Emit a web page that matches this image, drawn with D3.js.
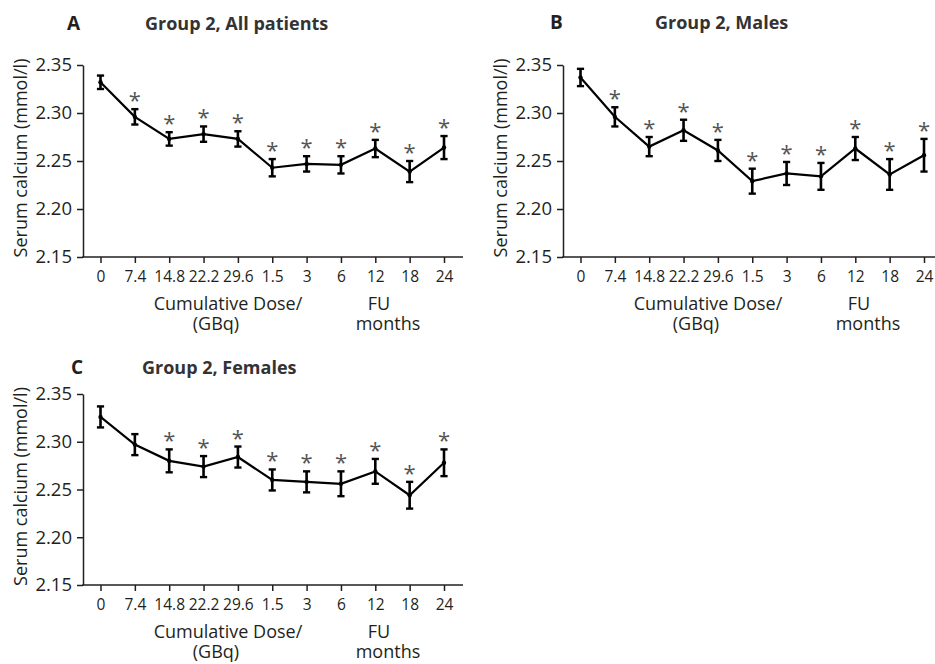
<!DOCTYPE html>
<html>
<head>
<meta charset="utf-8">
<script src="https://cdn.jsdelivr.net/npm/d3@7/dist/d3.min.js"></script>
<style>
  html, body { margin: 0; padding: 0; background: #fff; }
  svg { display: block; font-family: "Open Sans", "Noto Sans", sans-serif; }
</style>
</head>
<body>
<svg id="chart" width="935" height="664"></svg>
<script>
// Time points: cumulative dose (GBq) during therapy, then follow-up months
const timeLabels = ["0", "7.4", "14.8", "22.2", "29.6", "1.5", "3", "6", "12", "18", "24"];
const yTickValues = [2.15, 2.20, 2.25, 2.30, 2.35];

// Serum calcium mean and SEM (mmol/l)
const allMean = [2.332, 2.296, 2.273, 2.278, 2.273, 2.243, 2.247, 2.246, 2.263, 2.239, 2.264];
const allErr  = [0.007, 0.008, 0.007, 0.008, 0.008, 0.009, 0.008, 0.009, 0.009, 0.011, 0.012];
const allSig  = [0, 1, 1, 1, 1, 1, 1, 1, 1, 1, 1];

const maleMean = [2.337, 2.296, 2.265, 2.282, 2.261, 2.229, 2.237, 2.234, 2.263, 2.236, 2.256];
const maleErr  = [0.009, 0.010, 0.010, 0.011, 0.011, 0.013, 0.012, 0.014, 0.012, 0.016, 0.017];
const maleSig  = [0, 1, 1, 1, 1, 1, 1, 1, 1, 1, 1];

const femaleMean = [2.326, 2.297, 2.280, 2.274, 2.284, 2.260, 2.258, 2.256, 2.269, 2.244, 2.278];
const femaleErr  = [0.011, 0.011, 0.012, 0.011, 0.011, 0.011, 0.011, 0.013, 0.013, 0.014, 0.014];
const femaleSig  = [0, 0, 1, 1, 1, 1, 1, 1, 1, 1, 1];

const panels = [
  { letter: "A", title: "Group 2, All patients", mean: allMean, err: allErr, sig: allSig,
    x0: 83, xEnd: 463, yTop: 65, yBottom: 257, letterX: 67, titleX: 145, titleY: 30 },
  { letter: "B", title: "Group 2, Males", mean: maleMean, err: maleErr, sig: maleSig,
    x0: 563, xEnd: 935, yTop: 65, yBottom: 257, letterX: 550, titleX: 655, titleY: 29 },
  { letter: "C", title: "Group 2, Females", mean: femaleMean, err: femaleErr, sig: femaleSig,
    x0: 83, xEnd: 463, yTop: 394, yBottom: 585, letterX: 71, titleX: 142, titleY: 374 }
];

const textColor = "#231f20";
const svg = d3.select("#chart");

panels.forEach(p => {
  const g = svg.append("g");

  const x = d3.scalePoint().domain(timeLabels).range([p.x0 + 17.5, p.x0 + 361]);
  const y = d3.scaleLinear().domain([2.15, 2.35]).range([p.yBottom, p.yTop]);

  // Panel letter and title
  g.append("text").attr("x", p.letterX).attr("y", p.titleY)
    .attr("font-size", 19).attr("font-weight", 700).attr("fill", textColor).text(p.letter);
  g.append("text").attr("x", p.titleX).attr("y", p.titleY)
    .attr("font-size", 18).attr("font-weight", 700).attr("fill", "#333").text(p.title);

  // Y axis
  const yAxis = g.append("g").attr("transform", `translate(${p.x0},0)`)
    .call(d3.axisLeft(y).tickValues(yTickValues).tickFormat(d3.format(".2f"))
      .tickSize(6).tickSizeOuter(0).tickPadding(5));
  yAxis.select(".domain").attr("stroke", "#231f20").attr("stroke-width", 1.5);
  yAxis.selectAll(".tick line").attr("stroke", "#231f20").attr("stroke-width", 1.5);
  yAxis.selectAll(".tick text").attr("font-size", 18.5).attr("fill", textColor)
    .attr("font-family", "'Open Sans', sans-serif");

  // X axis
  const xAxis = g.append("g").attr("transform", `translate(0,${p.yBottom})`)
    .call(d3.axisBottom(x).tickSize(6).tickSizeOuter(0).tickPadding(8));
  xAxis.select(".domain").remove();
  xAxis.selectAll(".tick line").attr("stroke", "#231f20").attr("stroke-width", 1.5);
  xAxis.selectAll(".tick text").attr("font-size", 15.5).attr("fill", textColor)
    .attr("font-family", "'Open Sans', sans-serif");
  g.append("line")
    .attr("x1", p.x0 - 0.75).attr("x2", p.xEnd)
    .attr("y1", p.yBottom).attr("y2", p.yBottom)
    .attr("stroke", "#231f20").attr("stroke-width", 1.5);

  // Y axis title
  g.append("text")
    .attr("transform", `translate(${p.x0 - 56},${(p.yTop + p.yBottom) / 2 - 3}) rotate(-90)`)
    .attr("text-anchor", "middle").attr("font-size", 18).attr("fill", textColor)
    .text("Serum calcium (mmol/l)");

  // X axis titles, two lines each
  const xt = [
    { t: "Cumulative Dose/", dx: 145, dy: 53 },
    { t: "(GBq)", dx: 133, dy: 73 },
    { t: "FU", dx: 296, dy: 53 },
    { t: "months", dx: 305, dy: 73 }
  ];
  g.selectAll(".xtitle").data(xt).join("text")
    .attr("x", d => p.x0 + d.dx).attr("y", d => p.yBottom + d.dy)
    .attr("text-anchor", "middle").attr("font-size", 18).attr("fill", textColor)
    .text(d => d.t);

  const pts = timeLabels.map((lab, i) => ({ lab, m: p.mean[i], e: p.err[i], s: p.sig[i] }));

  // Mean line
  g.append("path").datum(pts)
    .attr("d", d3.line().x(d => x(d.lab)).y(d => y(d.m)))
    .attr("fill", "none").attr("stroke", "#000").attr("stroke-width", 2.2)
    .attr("stroke-linejoin", "miter");

  // Error bars
  const eb = g.selectAll(".eb").data(pts).join("g");
  eb.append("line")
    .attr("x1", d => x(d.lab)).attr("x2", d => x(d.lab))
    .attr("y1", d => y(d.m - d.e)).attr("y2", d => y(d.m + d.e))
    .attr("stroke", "#000").attr("stroke-width", 2.6);
  [1, -1].forEach(sgn => {
    eb.append("line")
      .attr("x1", d => x(d.lab) - 3.6).attr("x2", d => x(d.lab) + 3.6)
      .attr("y1", d => y(d.m + sgn * d.e)).attr("y2", d => y(d.m + sgn * d.e))
      .attr("stroke", "#000").attr("stroke-width", 2.4);
  });
  eb.append("circle")
    .attr("cx", d => x(d.lab)).attr("cy", d => y(d.m)).attr("r", 2.2).attr("fill", "#000");

  // Significance markers above the upper error caps
  g.selectAll(".sig").data(pts.filter(d => d.s)).join("text")
    .attr("x", d => x(d.lab)).attr("y", d => y(d.m + d.e) - 1)
    .attr("text-anchor", "middle").attr("font-size", 22).attr("fill", "#555")
    .text("*");
});
</script>
</body>
</html>
